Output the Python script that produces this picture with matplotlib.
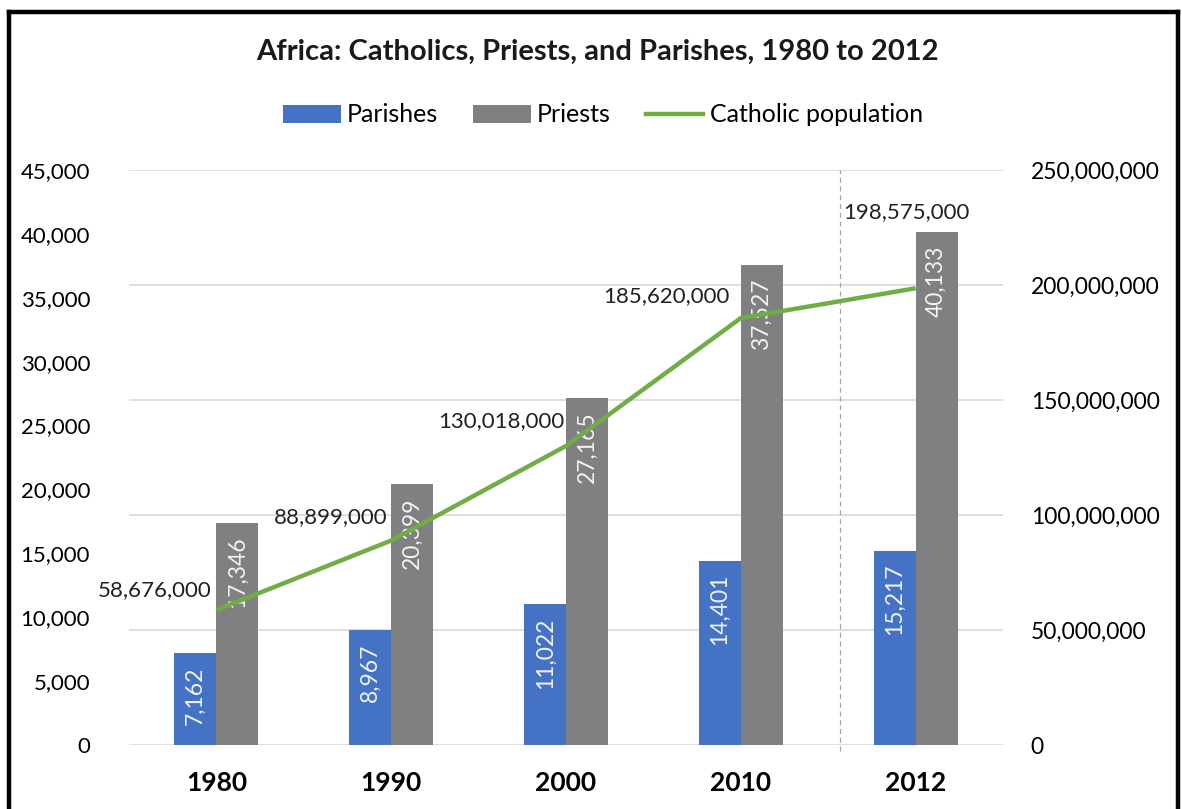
import numpy as np
import matplotlib.pyplot as plt
from matplotlib.lines import Line2D
from matplotlib.ticker import FuncFormatter

plt.rcParams["font.family"] = ["Lato", "DejaVu Sans"]

# ── Data ──────────────────────────────────────────────────────
years = ["1980", "1990", "2000", "2010", "2012"]
parishes = [7162, 8967, 11022, 14401, 15217]
priests = [17346, 20399, 27165, 37527, 40133]
catholics = [58676000, 88899000, 130018000, 185620000, 198575000]

BLUE = "#4472C4"
GRAY = "#808080"
GREEN = "#70AD47"
GRID = "#D9D9D9"

fig = plt.figure(figsize=(11.82, 8.09), dpi=100)
ax = fig.add_axes([129 / 1182, 64 / 809, 874 / 1182, 575 / 809])
ax2 = ax.twinx()

x = np.arange(len(years))
w = 0.24

# ── Bars ──────────────────────────────────────────────────────
b1 = ax.bar(x - w / 2, parishes, w, color=BLUE, label="Parishes", zorder=2)
b2 = ax.bar(x + w / 2, priests, w, color=GRAY, label="Priests", zorder=2)

for bars, vals in ((b1, parishes), (b2, priests)):
    for r, v in zip(bars, vals):
        ax.annotate(f"{v:,}", (r.get_x() + r.get_width() / 2, v),
                    xytext=(0, -13), textcoords="offset pixels",
                    ha="center", va="top", rotation=90,
                    fontsize=16.5, color="#F2F2F2", zorder=3)

ax.set_xlim(-0.5, len(years) - 0.5)
ax.set_ylim(0, 45000)
ax.set_yticks(np.arange(0, 45001, 5000))
ax.yaxis.set_major_formatter(FuncFormatter(lambda v, p: f"{int(v):,}"))
ax.set_xticks(x)
ax.set_xticklabels(years, fontsize=19, fontweight="bold")
ax.tick_params(axis="x", length=0, pad=19)
ax.tick_params(axis="y", length=0, pad=28, labelsize=16)

# dashed separator before 2012
ax.axvline(3.57, ymin=-0.01, ymax=1, color="#A6A6A6", ls=(0, (4, 3)),
           lw=0.9, zorder=1, clip_on=False)

# gridlines follow the secondary axis ticks
for t in np.arange(0, 250000001, 50000000):
    ax.axhline(t / 250000000 * 45000, color=GRID, lw=1.2, zorder=0)

# ── Line (secondary axis) ─────────────────────────────────────
ax2.plot(x, catholics, color=GREEN, lw=3.2, label="Catholic population",
         solid_capstyle="butt", zorder=4)
ax2.set_ylim(0, 250000000)
ax2.set_yticks(np.arange(0, 250000001, 50000000))
ax2.yaxis.set_major_formatter(FuncFormatter(lambda v, p: f"{int(v):,}"))
ax2.tick_params(axis="y", length=0, pad=20, labelsize=16.5)
ax2.patch.set_visible(False)

offsets = [(-5, 20), (-4, 23), (-2, 25), (-11, 22), (-9, 76)]
for i, (v, off) in enumerate(zip(catholics, offsets)):
    ha = "center" if i == len(catholics) - 1 else "right"
    ax2.annotate(f"{v:,}", (x[i], v), xytext=off, textcoords="offset pixels",
                 ha=ha, va="center", fontsize=16, color="#202020")

for a in (ax, ax2):
    for s in a.spines.values():
        s.set_visible(False)

# ── Title & Legend ────────────────────────────────────────────
fig.text(597 / 1182, 1 - 52 / 809, "Africa: Catholics, Priests, and Parishes, 1980 to 2012",
         ha="center", va="center", fontsize=21, fontweight="bold", color="#1A1A1A")

handles = [b1, b2, Line2D([], [], color=GREEN, lw=3.2)]
fig.legend(handles, ["Parishes", "Priests", "Catholic population"],
           loc="center", bbox_to_anchor=(603 / 1182, 1 - 115 / 809), ncol=3,
           frameon=False, fontsize=18, handlelength=2.3, handletextpad=0.25,
           columnspacing=1.4)

# ── Outer border ──────────────────────────────────────────────
for xs, ys in (([9 / 1182, 9 / 1182], [0, 1 - 12 / 809]),
               ([9 / 1182, 1178 / 1182], [1 - 12 / 809, 1 - 12 / 809]),
               ([1178 / 1182, 1178 / 1182], [1 - 12 / 809, 0])):
    fig.add_artist(Line2D(xs, ys, color="black", lw=3.2, transform=fig.transFigure))

plt.savefig("out.png", dpi=100)
